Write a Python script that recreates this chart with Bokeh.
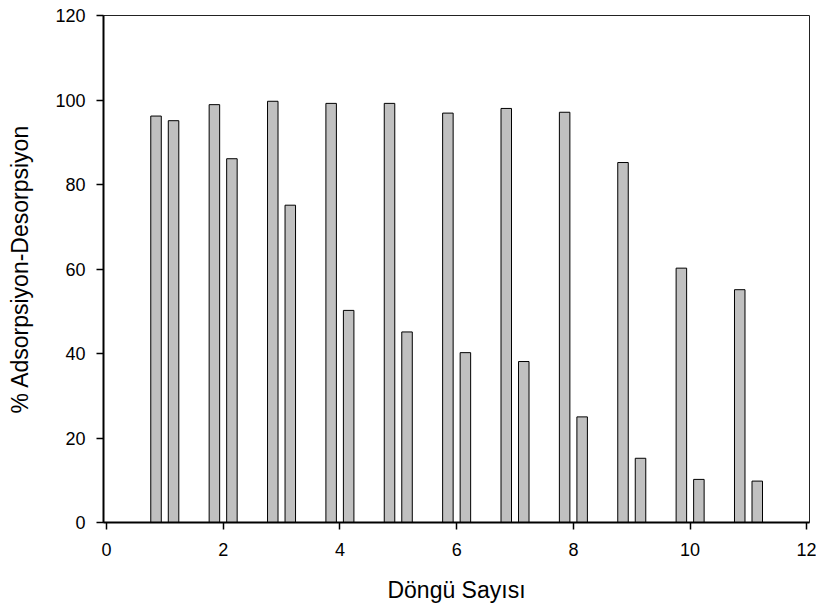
from bokeh.plotting import figure
from bokeh.models import Range1d, FixedTicker
from bokeh.embed import file_html
from bokeh.resources import INLINE

cycles = [1, 2, 3, 4, 5, 6, 7, 8, 9, 10, 11]
adsorption = [96.2, 98.9, 99.7, 99.2, 99.2, 96.9, 98.0, 97.1, 85.2, 60.2, 55.1]
desorption = [95.1, 86.1, 75.1, 50.2, 45.1, 40.2, 38.1, 25.0, 15.2, 10.2, 9.8]
x_ticks = [0, 2, 4, 6, 8, 10, 12]
y_ticks = [0, 20, 40, 60, 80, 100, 120]

offset = 0.15
bar_w = 0.18

p = figure(width=816, height=610, output_backend="svg", toolbar_location=None,
           x_range=Range1d(-0.05, 12.045), y_range=Range1d(0, 120),
           min_border_left=103, min_border_right=7, min_border_top=15, min_border_bottom=88)

p.vbar(x=[c - offset for c in cycles], top=adsorption, bottom=0, width=bar_w,
       fill_color="#C0C0C0", line_color="black", line_width=1)
p.vbar(x=[c + offset for c in cycles], top=desorption, bottom=0, width=bar_w,
       fill_color="#C0C0C0", line_color="black", line_width=1)

p.xgrid.visible = False
p.ygrid.visible = False
p.outline_line_color = "#222222"
p.outline_line_width = 1

font = "Liberation Sans"
for ax in (p.xaxis[0], p.yaxis[0]):
    ax.axis_line_color = "black"
    ax.axis_line_width = 2
    ax.major_tick_line_color = "black"
    ax.major_tick_line_width = 1.5
    ax.major_tick_in = 0
    ax.major_tick_out = 7
    ax.minor_tick_line_color = None
    ax.major_label_text_font = font
    ax.major_label_text_font_size = "18px"
    ax.major_label_text_color = "black"
    ax.axis_label_text_font = font
    ax.axis_label_text_font_size = "23px"
    ax.axis_label_text_font_style = "normal"
    ax.axis_label_text_color = "black"

p.xaxis.ticker = FixedTicker(ticks=x_ticks)
p.yaxis.ticker = FixedTicker(ticks=y_ticks)
p.xaxis.axis_label = "Döngü Sayısı"
p.yaxis.axis_label = "% Adsorpsiyon-Desorpsiyon"
p.xaxis.major_label_standoff = 13
p.yaxis.major_label_standoff = 11
p.xaxis.axis_label_standoff = 18
p.yaxis.axis_label_standoff = 19

open("out.html", "w").write(file_html(p, INLINE))
